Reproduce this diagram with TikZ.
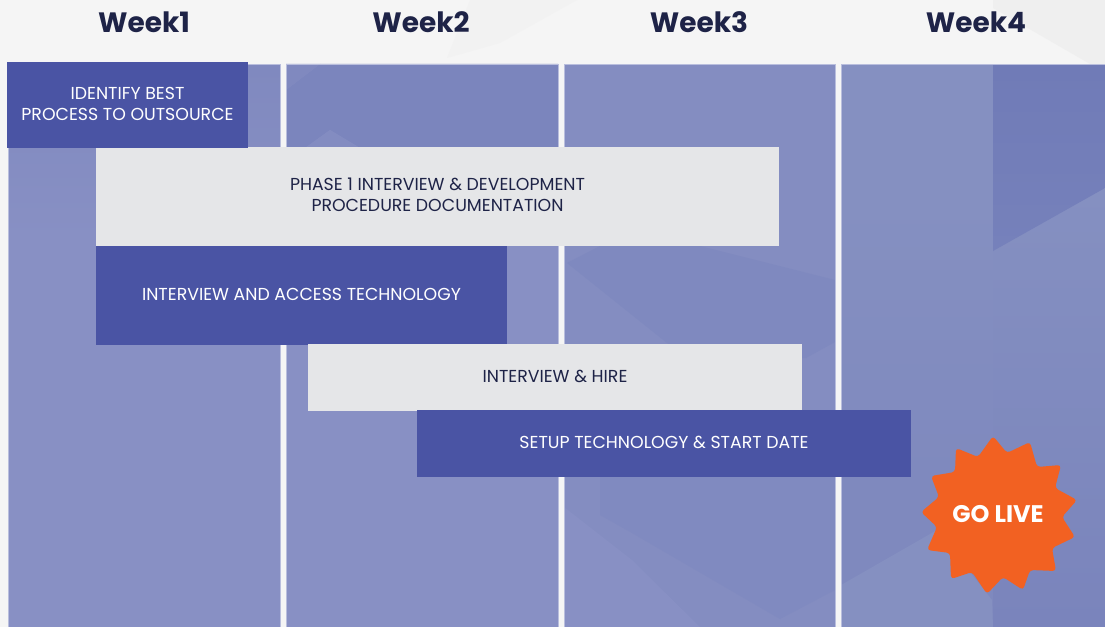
\documentclass[tikz,border=0pt]{standalone}
\usepackage{fontspec}
\setmainfont{Poppins}
\definecolor{pagebg}{HTML}{F5F5F5}
\definecolor{bgfacet}{HTML}{EFEFEF}
\definecolor{bgfacetb}{HTML}{F2F2F2}
\definecolor{coltop}{HTML}{8089BF}
\definecolor{colbot}{HTML}{8890C4}
\definecolor{colmid}{HTML}{848DC1}
\definecolor{facetdark}{HTML}{7F89BF}
\definecolor{facetlow}{HTML}{808AC0}
\definecolor{facettop}{HTML}{7B85BD}
\definecolor{facetpeak}{HTML}{838CC1}
\definecolor{edgeline}{HTML}{B9BEDD}
\definecolor{bandtop}{HTML}{707BB7}
\definecolor{bandbot}{HTML}{7681BB}
\definecolor{foura}{HTML}{8590C1}
\definecolor{fourb}{HTML}{7F89BE}
\definecolor{fourc}{HTML}{7A84BC}
\definecolor{barblue}{HTML}{4A54A4}
\definecolor{bargrey}{HTML}{E5E6E8}
\definecolor{ink}{HTML}{1E2347}
\definecolor{burst}{HTML}{F26122}
\newcommand{\upline}[1]{\raisebox{-1.2pt}[7pt][2pt]{#1}}
\tikzset{
  x=0.75pt,y=-0.75pt,
  weekhead/.style={font=\fontsize{21}{24}\selectfont\bfseries,text=ink,anchor=center,inner sep=0pt},
  paneledge/.style={draw=edgeline,line width=0.4pt},
  barbox/.style={draw=none,inner sep=0pt,outer sep=0pt,anchor=north west,align=center,font=\fontsize{13}{15.8}\selectfont},
  bluebar/.style={barbox,fill=barblue,text=white},
  greybar/.style={barbox,fill=bargrey,text=ink},
}
\begin{document}
\begin{tikzpicture}
\useasboundingbox (0,0) rectangle (1105,627);
\fill[pagebg] (0,0) rectangle (1105,627);
\fill[bgfacet] (993,0) -- (1105,0) -- (1105,64) -- (1090,64) -- (993,8) -- cycle;
\fill[bgfacetb] (470,0) -- (577,0) -- (500,43) -- (447,58) -- cycle;
% panels
\fill[colbot] (8,64) rectangle (280,627);
\fill[colbot] (286,64) rectangle (558,627);
\fill[colmid] (564,64) rectangle (835,627);
\fill[foura] (841,64) rectangle (1105,627);
% column 1 and 2 upper shading
\shade[top color=coltop,bottom color=colbot] (8,65) rectangle (280,240);
\fill[facettop] (320,64) -- (558,64) -- (558,148) -- (360,148) -- (330,130) -- (305,148) -- (286,148) -- (286,90) -- cycle;
\fill[facetpeak] (305,148) -- (330,130) -- (360,148) -- cycle;
\fill[coltop] (286,64) -- (320,64) -- (286,90) -- cycle;
% column 3 facets
\fill[facetdark] (567,263) -- (667,343) -- (700,360) -- (806,358) -- (835,342) -- (835,280) -- (700,246) -- (600,246) -- cycle;
\fill[facetlow] (600,477) -- (835,477) -- (835,590) -- (780,619) -- (632,533) -- (600,515) -- cycle;
\fill[colbot] (564,507) -- (632,560) -- (700,627) -- (564,627) -- cycle;
% column 4 shading and facets
\shade[top color=foura,bottom color=fourb] (841,200) rectangle (993,480);
\fill[fourb] (841,480) rectangle (993,627);
\fill[foura] (841,585) -- (937,530) -- (992,600) -- (993,627) -- (841,627) -- cycle;
\shade[top color=foura,bottom color=fourc] (993,251) -- (1105,188) -- (1105,627) -- (993,627) -- cycle;
\shade[top color=bandtop,bottom color=bandbot] (993,65) -- (1105,65) -- (1105,188) -- (993,251) -- cycle;
% panel edges
\draw[paneledge] (8,627) -- (8,64) -- (280,64) -- (280,627);
\draw[paneledge] (286,627) -- (286,64) -- (558,64) -- (558,627);
\draw[paneledge] (564,627) -- (564,64) -- (835,64) -- (835,627);
\draw[paneledge] (841,627) -- (841,64) -- (1105,64);
% headers
\node[weekhead] (w1) at (144,22) {Week1};
\node[weekhead] (w2) at (421,22) {Week2};
\node[weekhead] (w3) at (699,22) {Week3};
\node[weekhead] (w4) at (976,22) {Week4};
% bars
\node[greybar,minimum width=683*0.75pt,minimum height=99*0.75pt] (phase) at (96,147) {\upline{PHASE 1 INTERVIEW \& DEVELOPMENT}\\\upline{PROCEDURE DOCUMENTATION}};
\node[bluebar,minimum width=241*0.75pt,minimum height=86*0.75pt] (identify) at (7,62) {\upline{IDENTIFY BEST}\\\upline{PROCESS TO OUTSOURCE}};
\node[bluebar,minimum width=411*0.75pt,minimum height=99*0.75pt] (tech) at (96,246) {\upline{INTERVIEW AND ACCESS TECHNOLOGY}};
\node[greybar,minimum width=494*0.75pt,minimum height=67*0.75pt] (hire) at (308,344) {\upline{INTERVIEW \& HIRE}};
\node[bluebar,minimum width=494*0.75pt,minimum height=67*0.75pt] (setup) at (417,410) {\upline{SETUP TECHNOLOGY \& START DATE}};
% burst
\fill[burst,rounded corners=2.5pt]
 (993,436) -- (1007,453) -- (1030,442) -- (1037,467) -- (1061,465) -- (1055,488) -- (1077,500) -- (1062,517) -- (1075,537) -- (1052,548) -- (1056,571) -- (1030,570) -- (1023,590) -- (1003,577) -- (987,594) -- (972,572) -- (951,579) -- (950,553) -- (927,550) -- (937,527) -- (921,512) -- (939,497) -- (931,476) -- (955,472) -- (956,448) -- (978,457) -- cycle;
\node[font=\fontsize{18}{20}\selectfont\bfseries,text=white,inner sep=0pt] (golive) at (998,514) {GO LIVE};
\end{tikzpicture}
\end{document}
